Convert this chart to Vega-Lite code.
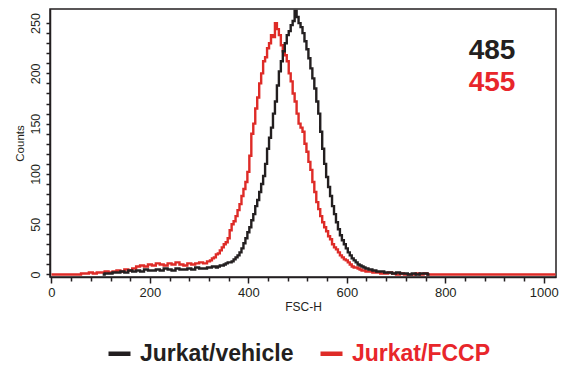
{
  "$schema": "https://vega.github.io/schema/vega-lite/v6.json",
  "width": 506,
  "height": 268,
  "autosize": "none",
  "padding": {"left": 50, "top": 9, "right": 8, "bottom": 90},
  "background": "white",
  "config": {
    "view": {"stroke": "#231f20", "strokeWidth": 1.5},
    "font": "Liberation Sans",
    "axis": {
      "domainColor": "#231f20", "domainWidth": 1.5, "tickColor": "#231f20", "tickWidth": 1.5,
      "labelColor": "#231f20", "titleColor": "#231f20", "grid": false,
      "labelFont": "Liberation Sans", "titleFont": "Liberation Sans", "titleFontWeight": "normal",
      "labelOverlap": false, "labelFlush": false
    }
  },
  "datasets": {
    "hist": [
      {"series":"Jurkat/FCCP","fsc":0,"count":0},{"series":"Jurkat/FCCP","fsc":56,"count":0},{"series":"Jurkat/FCCP","fsc":64,"count":1},{"series":"Jurkat/FCCP","fsc":72,"count":1},{"series":"Jurkat/FCCP","fsc":80,"count":2},{"series":"Jurkat/FCCP","fsc":88,"count":1},{"series":"Jurkat/FCCP","fsc":96,"count":2},{"series":"Jurkat/FCCP","fsc":104,"count":2},{"series":"Jurkat/FCCP","fsc":112,"count":3},{"series":"Jurkat/FCCP","fsc":120,"count":2},{"series":"Jurkat/FCCP","fsc":128,"count":3},{"series":"Jurkat/FCCP","fsc":136,"count":4},{"series":"Jurkat/FCCP","fsc":144,"count":3},{"series":"Jurkat/FCCP","fsc":152,"count":5},{"series":"Jurkat/FCCP","fsc":160,"count":4},{"series":"Jurkat/FCCP","fsc":168,"count":6},{"series":"Jurkat/FCCP","fsc":176,"count":8},{"series":"Jurkat/FCCP","fsc":184,"count":9},{"series":"Jurkat/FCCP","fsc":192,"count":8},{"series":"Jurkat/FCCP","fsc":200,"count":10},{"series":"Jurkat/FCCP","fsc":208,"count":9},{"series":"Jurkat/FCCP","fsc":216,"count":11},{"series":"Jurkat/FCCP","fsc":224,"count":10},{"series":"Jurkat/FCCP","fsc":232,"count":9},{"series":"Jurkat/FCCP","fsc":240,"count":11},{"series":"Jurkat/FCCP","fsc":248,"count":10},{"series":"Jurkat/FCCP","fsc":256,"count":12},{"series":"Jurkat/FCCP","fsc":264,"count":10},{"series":"Jurkat/FCCP","fsc":272,"count":9},{"series":"Jurkat/FCCP","fsc":280,"count":11},{"series":"Jurkat/FCCP","fsc":288,"count":10},{"series":"Jurkat/FCCP","fsc":296,"count":11},{"series":"Jurkat/FCCP","fsc":304,"count":12},{"series":"Jurkat/FCCP","fsc":312,"count":11},
      {"series":"Jurkat/FCCP","fsc":320,"count":13},{"series":"Jurkat/FCCP","fsc":324,"count":14},{"series":"Jurkat/FCCP","fsc":328,"count":16},{"series":"Jurkat/FCCP","fsc":332,"count":17},{"series":"Jurkat/FCCP","fsc":336,"count":20},{"series":"Jurkat/FCCP","fsc":340,"count":21},{"series":"Jurkat/FCCP","fsc":344,"count":24},{"series":"Jurkat/FCCP","fsc":348,"count":27},{"series":"Jurkat/FCCP","fsc":352,"count":30},{"series":"Jurkat/FCCP","fsc":356,"count":32},{"series":"Jurkat/FCCP","fsc":360,"count":36},{"series":"Jurkat/FCCP","fsc":364,"count":44},{"series":"Jurkat/FCCP","fsc":368,"count":50},{"series":"Jurkat/FCCP","fsc":372,"count":53},{"series":"Jurkat/FCCP","fsc":376,"count":58},{"series":"Jurkat/FCCP","fsc":380,"count":64},{"series":"Jurkat/FCCP","fsc":384,"count":70},{"series":"Jurkat/FCCP","fsc":388,"count":78},{"series":"Jurkat/FCCP","fsc":392,"count":85},{"series":"Jurkat/FCCP","fsc":396,"count":92},{"series":"Jurkat/FCCP","fsc":400,"count":102},{"series":"Jurkat/FCCP","fsc":404,"count":118},{"series":"Jurkat/FCCP","fsc":408,"count":140},{"series":"Jurkat/FCCP","fsc":412,"count":150},{"series":"Jurkat/FCCP","fsc":416,"count":165},{"series":"Jurkat/FCCP","fsc":420,"count":176},{"series":"Jurkat/FCCP","fsc":424,"count":190},{"series":"Jurkat/FCCP","fsc":428,"count":200},{"series":"Jurkat/FCCP","fsc":432,"count":212},{"series":"Jurkat/FCCP","fsc":436,"count":216},{"series":"Jurkat/FCCP","fsc":440,"count":225},{"series":"Jurkat/FCCP","fsc":444,"count":230},{"series":"Jurkat/FCCP","fsc":448,"count":238},{"series":"Jurkat/FCCP","fsc":452,"count":236},{"series":"Jurkat/FCCP","fsc":456,"count":250},{"series":"Jurkat/FCCP","fsc":460,"count":244},{"series":"Jurkat/FCCP","fsc":464,"count":238},{"series":"Jurkat/FCCP","fsc":468,"count":228},{"series":"Jurkat/FCCP","fsc":472,"count":222},{"series":"Jurkat/FCCP","fsc":476,"count":218},{"series":"Jurkat/FCCP","fsc":480,"count":212},{"series":"Jurkat/FCCP","fsc":484,"count":200},{"series":"Jurkat/FCCP","fsc":488,"count":192},{"series":"Jurkat/FCCP","fsc":492,"count":180},{"series":"Jurkat/FCCP","fsc":496,"count":172},{"series":"Jurkat/FCCP","fsc":500,"count":160},{"series":"Jurkat/FCCP","fsc":504,"count":150},{"series":"Jurkat/FCCP","fsc":508,"count":146},{"series":"Jurkat/FCCP","fsc":512,"count":142},{"series":"Jurkat/FCCP","fsc":516,"count":130},{"series":"Jurkat/FCCP","fsc":520,"count":122},{"series":"Jurkat/FCCP","fsc":524,"count":112},{"series":"Jurkat/FCCP","fsc":528,"count":104},{"series":"Jurkat/FCCP","fsc":532,"count":92},{"series":"Jurkat/FCCP","fsc":536,"count":82},{"series":"Jurkat/FCCP","fsc":540,"count":72},{"series":"Jurkat/FCCP","fsc":544,"count":65},{"series":"Jurkat/FCCP","fsc":548,"count":58},{"series":"Jurkat/FCCP","fsc":552,"count":52},{"series":"Jurkat/FCCP","fsc":556,"count":47},{"series":"Jurkat/FCCP","fsc":560,"count":43},{"series":"Jurkat/FCCP","fsc":564,"count":38},{"series":"Jurkat/FCCP","fsc":568,"count":35},{"series":"Jurkat/FCCP","fsc":572,"count":30},{"series":"Jurkat/FCCP","fsc":576,"count":27},{"series":"Jurkat/FCCP","fsc":580,"count":25},{"series":"Jurkat/FCCP","fsc":584,"count":22},{"series":"Jurkat/FCCP","fsc":588,"count":19},{"series":"Jurkat/FCCP","fsc":592,"count":17},{"series":"Jurkat/FCCP","fsc":596,"count":15},{"series":"Jurkat/FCCP","fsc":600,"count":14},{"series":"Jurkat/FCCP","fsc":604,"count":12},{"series":"Jurkat/FCCP","fsc":608,"count":10},{"series":"Jurkat/FCCP","fsc":612,"count":8},{"series":"Jurkat/FCCP","fsc":616,"count":7},{"series":"Jurkat/FCCP","fsc":620,"count":7},{"series":"Jurkat/FCCP","fsc":624,"count":6},{"series":"Jurkat/FCCP","fsc":628,"count":5},{"series":"Jurkat/FCCP","fsc":632,"count":4},{"series":"Jurkat/FCCP","fsc":636,"count":4},{"series":"Jurkat/FCCP","fsc":640,"count":3},
      {"series":"Jurkat/FCCP","fsc":648,"count":3},{"series":"Jurkat/FCCP","fsc":656,"count":2},{"series":"Jurkat/FCCP","fsc":664,"count":2},{"series":"Jurkat/FCCP","fsc":672,"count":1},{"series":"Jurkat/FCCP","fsc":680,"count":1},{"series":"Jurkat/FCCP","fsc":688,"count":2},{"series":"Jurkat/FCCP","fsc":696,"count":1},{"series":"Jurkat/FCCP","fsc":704,"count":0},{"series":"Jurkat/FCCP","fsc":712,"count":1},{"series":"Jurkat/FCCP","fsc":720,"count":0},{"series":"Jurkat/FCCP","fsc":736,"count":0},{"series":"Jurkat/FCCP","fsc":744,"count":1},{"series":"Jurkat/FCCP","fsc":752,"count":0},{"series":"Jurkat/FCCP","fsc":760,"count":1},{"series":"Jurkat/FCCP","fsc":768,"count":0},{"series":"Jurkat/FCCP","fsc":1024,"count":0},
      {"series":"Jurkat/vehicle","fsc":104,"count":0},{"series":"Jurkat/vehicle","fsc":112,"count":1},{"series":"Jurkat/vehicle","fsc":120,"count":1},{"series":"Jurkat/vehicle","fsc":128,"count":2},{"series":"Jurkat/vehicle","fsc":136,"count":2},{"series":"Jurkat/vehicle","fsc":144,"count":3},{"series":"Jurkat/vehicle","fsc":152,"count":2},{"series":"Jurkat/vehicle","fsc":160,"count":4},{"series":"Jurkat/vehicle","fsc":168,"count":3},{"series":"Jurkat/vehicle","fsc":176,"count":4},{"series":"Jurkat/vehicle","fsc":184,"count":3},{"series":"Jurkat/vehicle","fsc":192,"count":5},{"series":"Jurkat/vehicle","fsc":200,"count":4},{"series":"Jurkat/vehicle","fsc":208,"count":4},{"series":"Jurkat/vehicle","fsc":216,"count":5},{"series":"Jurkat/vehicle","fsc":224,"count":4},{"series":"Jurkat/vehicle","fsc":232,"count":6},{"series":"Jurkat/vehicle","fsc":240,"count":5},{"series":"Jurkat/vehicle","fsc":248,"count":4},{"series":"Jurkat/vehicle","fsc":256,"count":6},{"series":"Jurkat/vehicle","fsc":264,"count":5},{"series":"Jurkat/vehicle","fsc":272,"count":5},{"series":"Jurkat/vehicle","fsc":280,"count":6},{"series":"Jurkat/vehicle","fsc":288,"count":5},{"series":"Jurkat/vehicle","fsc":296,"count":7},{"series":"Jurkat/vehicle","fsc":304,"count":6},{"series":"Jurkat/vehicle","fsc":312,"count":6},
      {"series":"Jurkat/vehicle","fsc":320,"count":7},{"series":"Jurkat/vehicle","fsc":324,"count":7},{"series":"Jurkat/vehicle","fsc":328,"count":8},{"series":"Jurkat/vehicle","fsc":332,"count":8},{"series":"Jurkat/vehicle","fsc":336,"count":7},{"series":"Jurkat/vehicle","fsc":340,"count":8},{"series":"Jurkat/vehicle","fsc":344,"count":9},{"series":"Jurkat/vehicle","fsc":348,"count":9},{"series":"Jurkat/vehicle","fsc":352,"count":10},{"series":"Jurkat/vehicle","fsc":356,"count":11},{"series":"Jurkat/vehicle","fsc":360,"count":12},{"series":"Jurkat/vehicle","fsc":364,"count":12},{"series":"Jurkat/vehicle","fsc":368,"count":13},{"series":"Jurkat/vehicle","fsc":372,"count":15},{"series":"Jurkat/vehicle","fsc":376,"count":17},{"series":"Jurkat/vehicle","fsc":380,"count":19},{"series":"Jurkat/vehicle","fsc":384,"count":22},{"series":"Jurkat/vehicle","fsc":388,"count":26},{"series":"Jurkat/vehicle","fsc":392,"count":31},{"series":"Jurkat/vehicle","fsc":396,"count":36},{"series":"Jurkat/vehicle","fsc":400,"count":42},{"series":"Jurkat/vehicle","fsc":404,"count":47},{"series":"Jurkat/vehicle","fsc":408,"count":54},{"series":"Jurkat/vehicle","fsc":412,"count":60},{"series":"Jurkat/vehicle","fsc":416,"count":68},{"series":"Jurkat/vehicle","fsc":420,"count":74},{"series":"Jurkat/vehicle","fsc":424,"count":82},{"series":"Jurkat/vehicle","fsc":428,"count":90},{"series":"Jurkat/vehicle","fsc":432,"count":98},{"series":"Jurkat/vehicle","fsc":436,"count":110},{"series":"Jurkat/vehicle","fsc":440,"count":125},{"series":"Jurkat/vehicle","fsc":444,"count":136},{"series":"Jurkat/vehicle","fsc":448,"count":146},{"series":"Jurkat/vehicle","fsc":452,"count":160},{"series":"Jurkat/vehicle","fsc":456,"count":172},{"series":"Jurkat/vehicle","fsc":460,"count":188},{"series":"Jurkat/vehicle","fsc":464,"count":202},{"series":"Jurkat/vehicle","fsc":468,"count":212},{"series":"Jurkat/vehicle","fsc":472,"count":222},{"series":"Jurkat/vehicle","fsc":476,"count":230},{"series":"Jurkat/vehicle","fsc":480,"count":238},{"series":"Jurkat/vehicle","fsc":484,"count":242},{"series":"Jurkat/vehicle","fsc":488,"count":248},{"series":"Jurkat/vehicle","fsc":492,"count":252},{"series":"Jurkat/vehicle","fsc":496,"count":262},{"series":"Jurkat/vehicle","fsc":500,"count":256},{"series":"Jurkat/vehicle","fsc":504,"count":250},{"series":"Jurkat/vehicle","fsc":508,"count":246},{"series":"Jurkat/vehicle","fsc":512,"count":240},{"series":"Jurkat/vehicle","fsc":516,"count":232},{"series":"Jurkat/vehicle","fsc":520,"count":224},{"series":"Jurkat/vehicle","fsc":524,"count":215},{"series":"Jurkat/vehicle","fsc":528,"count":205},{"series":"Jurkat/vehicle","fsc":532,"count":195},{"series":"Jurkat/vehicle","fsc":536,"count":185},{"series":"Jurkat/vehicle","fsc":540,"count":172},{"series":"Jurkat/vehicle","fsc":544,"count":160},{"series":"Jurkat/vehicle","fsc":548,"count":142},{"series":"Jurkat/vehicle","fsc":552,"count":125},{"series":"Jurkat/vehicle","fsc":556,"count":110},{"series":"Jurkat/vehicle","fsc":560,"count":97},{"series":"Jurkat/vehicle","fsc":564,"count":87},{"series":"Jurkat/vehicle","fsc":568,"count":78},{"series":"Jurkat/vehicle","fsc":572,"count":68},{"series":"Jurkat/vehicle","fsc":576,"count":60},{"series":"Jurkat/vehicle","fsc":580,"count":52},{"series":"Jurkat/vehicle","fsc":584,"count":45},{"series":"Jurkat/vehicle","fsc":588,"count":39},{"series":"Jurkat/vehicle","fsc":592,"count":34},{"series":"Jurkat/vehicle","fsc":596,"count":30},{"series":"Jurkat/vehicle","fsc":600,"count":26},{"series":"Jurkat/vehicle","fsc":604,"count":22},{"series":"Jurkat/vehicle","fsc":608,"count":19},{"series":"Jurkat/vehicle","fsc":612,"count":16},{"series":"Jurkat/vehicle","fsc":616,"count":14},{"series":"Jurkat/vehicle","fsc":620,"count":12},{"series":"Jurkat/vehicle","fsc":624,"count":10},{"series":"Jurkat/vehicle","fsc":628,"count":9},{"series":"Jurkat/vehicle","fsc":632,"count":8},{"series":"Jurkat/vehicle","fsc":636,"count":7},{"series":"Jurkat/vehicle","fsc":640,"count":6},
      {"series":"Jurkat/vehicle","fsc":648,"count":5},{"series":"Jurkat/vehicle","fsc":656,"count":4},{"series":"Jurkat/vehicle","fsc":664,"count":3},{"series":"Jurkat/vehicle","fsc":672,"count":3},{"series":"Jurkat/vehicle","fsc":680,"count":2},{"series":"Jurkat/vehicle","fsc":688,"count":2},{"series":"Jurkat/vehicle","fsc":696,"count":1},{"series":"Jurkat/vehicle","fsc":704,"count":2},{"series":"Jurkat/vehicle","fsc":712,"count":1},{"series":"Jurkat/vehicle","fsc":720,"count":1},{"series":"Jurkat/vehicle","fsc":728,"count":0},{"series":"Jurkat/vehicle","fsc":736,"count":1},{"series":"Jurkat/vehicle","fsc":744,"count":0},{"series":"Jurkat/vehicle","fsc":752,"count":1},{"series":"Jurkat/vehicle","fsc":760,"count":1},{"series":"Jurkat/vehicle","fsc":768,"count":0}
    ]
  },
  "data": {"name": "hist"},
  "layer": [
    {
      "transform": [{"filter": "datum.series === 'Jurkat/FCCP'"}],
      "mark": {"type": "line", "interpolate": "step", "strokeWidth": 2.4},
      "encoding": {
        "x": {"field": "fsc", "type": "quantitative", "scale": {"domain": [-3, 1025], "nice": false, "zero": false},
          "axis": {"orient": "bottom", "values": [0, 200, 400, 600, 800, 1000], "format": "d", "title": "FSC-H", "titleFontSize": 12, "labelFontSize": 13, "tickSize": 6, "labelPadding": 3, "titlePadding": 2}},
        "y": {"field": "count", "type": "quantitative", "scale": {"domain": [-2.5, 264], "nice": false, "zero": false},
          "axis": {"orient": "left", "values": [0, 50, 100, 150, 200, 250], "title": "Counts", "titleFontSize": 11.5, "labelFontSize": 12.5, "tickSize": 4, "labelAngle": -90, "labelAlign": "center", "labelBaseline": "bottom", "labelPadding": 4, "titlePadding": 4}},
        "color": {"field": "series", "type": "nominal",
          "scale": {"domain": ["Jurkat/vehicle", "Jurkat/FCCP"], "range": ["#231f20", "#de2b27"]},
          "legend": {"orient": "none", "legendX": 56, "legendY": 331, "direction": "horizontal", "title": null,
            "symbolType": "stroke", "symbolSize": 484, "symbolStrokeWidth": 4.5,
            "labelFont": "Liberation Sans", "labelFontWeight": "bold", "labelFontSize": 23, "labelLimit": 300,
            "columnPadding": 17, "labelOffset": 7,
            "encode": {"labels": {"update": {"fill": {"signal": "datum.value === 'Jurkat/FCCP' ? '#e8262b' : '#231f20'"}}}}}}
      }
    },
    {
      "transform": [{"filter": "datum.series === 'Jurkat/vehicle'"}],
      "mark": {"type": "line", "interpolate": "step", "strokeWidth": 2.4},
      "encoding": {
        "x": {"field": "fsc", "type": "quantitative",
          "axis": {"orient": "bottom", "values": [40,80,120,160,240,280,320,360,440,480,520,560,640,680,720,760,840,880,920,960], "labels": false, "title": null, "domain": false, "tickSize": 4}},
        "y": {"field": "count", "type": "quantitative",
          "axis": {"orient": "left", "values": [10,20,30,40,60,70,80,90,110,120,130,140,160,170,180,190,210,220,230,240], "labels": false, "title": null, "domain": false, "tickSize": 4}},
        "color": {"field": "series", "type": "nominal"}
      }
    },
    {
      "data": {"values": [{"label": "485"}]},
      "mark": {"type": "text", "font": "Liberation Sans", "fontWeight": "bold", "fontSize": 28, "color": "#231f20", "align": "center", "baseline": "middle"},
      "encoding": {
        "x": {"datum": 895, "type": "quantitative", "axis": null},
        "y": {"datum": 222, "type": "quantitative", "axis": null},
        "text": {"field": "label"}
      }
    },
    {
      "data": {"values": [{"label": "455"}]},
      "mark": {"type": "text", "font": "Liberation Sans", "fontWeight": "bold", "fontSize": 28, "color": "#e8262b", "align": "center", "baseline": "middle"},
      "encoding": {
        "x": {"datum": 895, "type": "quantitative", "axis": null},
        "y": {"datum": 190, "type": "quantitative", "axis": null},
        "text": {"field": "label"}
      }
    }
  ],
  "resolve": {"axis": {"x": "independent", "y": "independent"}}
}
